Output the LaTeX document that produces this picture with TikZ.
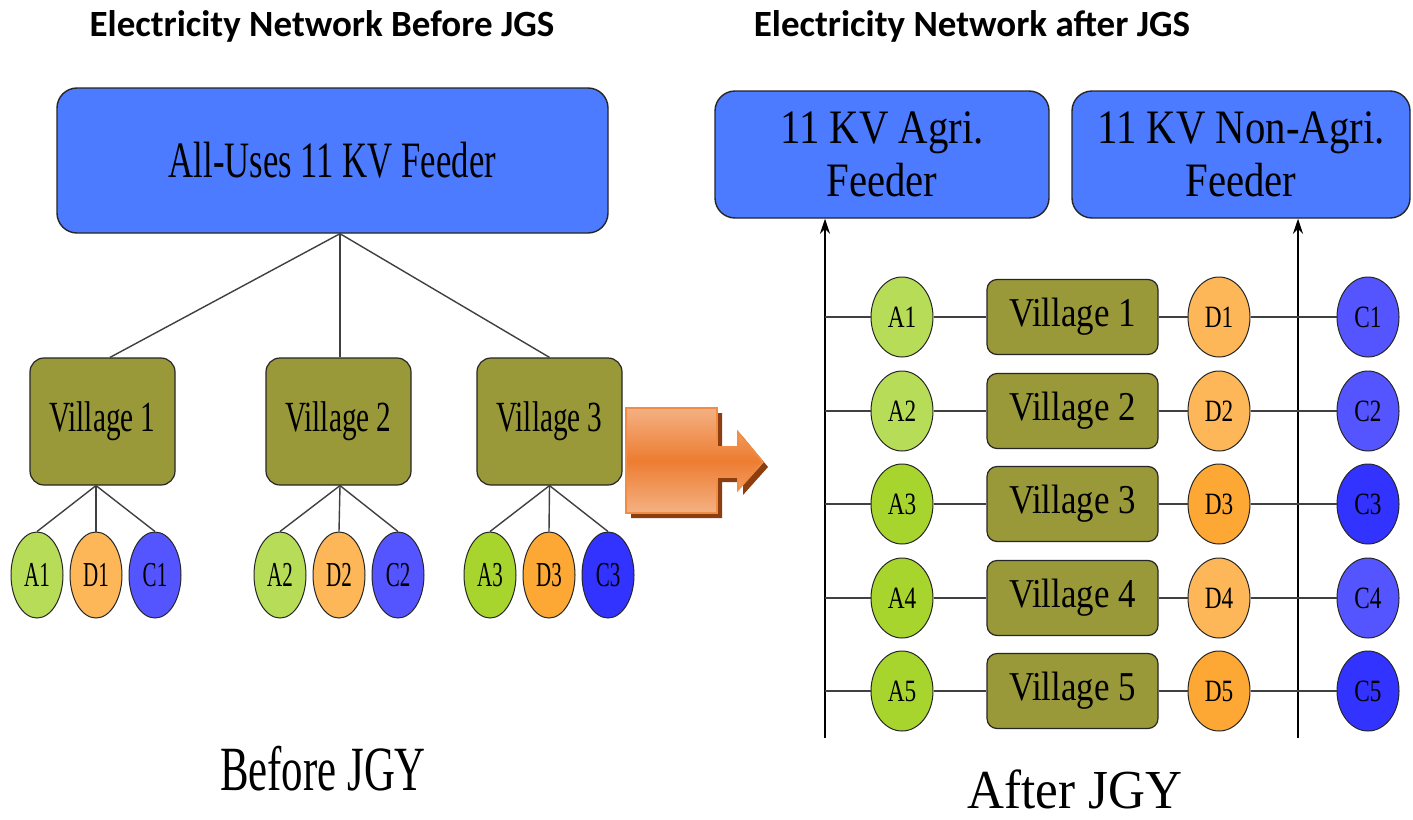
\documentclass[tikz,border=0pt]{standalone}
\usepackage{fontspec}
\setmainfont{Liberation Serif}
\newfontfamily\titlefont{Carlito}
\newfontfamily\fLa[FakeStretch=0.68]{Liberation Serif}
\newfontfamily\fLs[FakeStretch=0.6]{Liberation Serif}
\newfontfamily\fRa[FakeStretch=0.85]{Liberation Serif}
\newfontfamily\fRs[FakeStretch=0.75]{Liberation Serif}
\newfontfamily\fRb[FakeStretch=0.93]{Liberation Serif}
\usetikzlibrary{arrows.meta,calc,shapes.geometric}
\definecolor{feederblue}{RGB}{76,123,255}
\definecolor{olive}{RGB}{153,153,58}
\definecolor{agl}{RGB}{183,221,88}
\definecolor{ags}{RGB}{168,212,46}
\definecolor{dl}{RGB}{253,183,88}
\definecolor{ds}{RGB}{253,168,52}
\definecolor{cl}{RGB}{85,85,255}
\definecolor{cs}{RGB}{51,51,255}
\definecolor{olight}{RGB}{244,177,131}
\definecolor{omid}{RGB}{237,125,49}
\definecolor{oedge}{RGB}{240,140,70}
\definecolor{oshadow}{RGB}{140,62,16}
\tikzset{
  fbox/.style={draw=black!85, line width=0.7pt, fill=feederblue, rounded corners=10pt, align=center, inner sep=0pt},
  lvil/.style={draw=black!85, line width=0.6pt, fill=olive, rounded corners=7pt, minimum width=72.5pt, minimum height=63.5pt, inner sep=0pt, font=\fLa\fontsize{21.5}{24}\selectfont},
  rvil/.style={draw=black!85, line width=0.6pt, fill=olive, rounded corners=5pt, minimum width=85.5pt, minimum height=37.5pt, inner sep=0pt, font=\fRa\fontsize{20.5}{24}\selectfont},
  ell/.style={ellipse, draw=black!85, line width=0.5pt, inner sep=0pt},
  lell/.style={ell, minimum width=26pt, minimum height=43pt, font=\fLs\fontsize{17.5}{20}\selectfont},
  rell/.style={ell, minimum width=31pt, minimum height=40pt, font=\fRs\fontsize{15.5}{18}\selectfont},
  conn/.style={draw=black!75, line width=0.7pt},
  bus/.style={draw=black, line width=1.1pt, -{Stealth[length=7.5pt,width=5pt]}},
  ttl/.style={anchor=base, font=\titlefont\bfseries\fontsize{18.5}{21}\selectfont},
}
\begin{document}
\begin{tikzpicture}[x=0.5pt,y=-0.5pt]
\useasboundingbox[fill=white] (0,0) rectangle (1413,819);

% titles
\node[ttl] (t1) at (322,36) {Electricity Network Before JGS};
\node[ttl] (t2) at (972,36) {Electricity Network after JGS};

% ---------- left: before ----------
\node[fbox, minimum width=275.5pt, minimum height=72.5pt, font=\fLa\fontsize{25.5}{28}\selectfont] (feeder) at (332.5,160.5) {All-Uses 11 KV Feeder};
\node[lvil] (v1) at (102.5,421.5) {Village 1};
\node[lvil] (v2) at (338.5,421.5) {Village 2};
\node[lvil] (v3) at (549.5,421.5) {Village 3};
\draw[conn] ([xshift=3.75pt]feeder.south) -- ([xshift=3.75pt]v1.north);
\draw[conn] ([xshift=3.75pt]feeder.south) -- ([xshift=0.75pt]v2.north);
\draw[conn] ([xshift=3.75pt]feeder.south) -- (v3.north);

\node[lell, fill=agl] (la1) at (37,575) {A1};
\node[lell, fill=dl]  (ld1) at (96,575) {D1};
\node[lell, fill=cl]  (lc1) at (155,575) {C1};
\node[lell, fill=agl] (la2) at (280,575) {A2};
\node[lell, fill=dl]  (ld2) at (339,575) {D2};
\node[lell, fill=cl]  (lc2) at (398,575) {C2};
\node[lell, fill=ags] (la3) at (490,575) {A3};
\node[lell, fill=ds]  (ld3) at (549,575) {D3};
\node[lell, fill=cs]  (lc3) at (608,575) {C3};
\foreach \v/\n/\s in {v1/1/-3.25pt, v2/2/0.75pt, v3/3/0pt}{
  \draw[conn] ([xshift=\s]\v.south) -- (la\n.north);
  \draw[conn] ([xshift=\s]\v.south) -- (ld\n.north);
  \draw[conn] ([xshift=\s]\v.south) -- (lc\n.north);
}

\node[anchor=base, font=\fLa\fontsize{31.5}{34}\selectfont] (before) at (323,790) {Before JGY};

% ---------- transition arrow ----------
\fill[oshadow] (631,413) -- (722,413) -- (722,452) -- (743,452) -- (743,437) -- (768,467) -- (743,495) -- (743,482) -- (722,482) -- (722,518) -- (631,518) -- cycle;
\shade[top color=olight, bottom color=olight, middle color=omid, draw=oedge, line width=0.8pt]
  (626,408) -- (717,408) -- (717,447) -- (738,447) -- (738,432) -- (763,462) -- (738,490) -- (738,477) -- (717,477) -- (717,513) -- (626,513) -- cycle;

% ---------- right: after ----------
\node[fbox, minimum width=167pt, minimum height=63.5pt, font=\fRa\fontsize{24}{26.5}\selectfont] (agri) at (882,154.5) {11 KV Agri.\\Feeder};
\node[fbox, minimum width=169pt, minimum height=63.5pt, font=\fRa\fontsize{24}{26.5}\selectfont] (nonagri) at (1241,154.5) {11 KV Non-Agri.\\Feeder};

\coordinate (busL) at (825,738);
\coordinate (busR) at (1298,738);
\draw[bus] (busL) -- (busL |- agri.south);
\draw[bus] (busR) -- (busR |- nonagri.south);

\foreach \i/\y/\ac/\dc/\cc in {1/317/agl/dl/cl, 2/411/agl/dl/cl, 3/504/ags/ds/cs, 4/598/ags/dl/cl, 5/691/ags/ds/cs}{
  \node[rell, fill=\ac] (ra\i) at (902,\y) {A\i};
  \node[rvil] (rv\i) at (1072.5,\y) {Village \i};
  \node[rell, fill=\dc] (rd\i) at (1219,\y) {D\i};
  \node[rell, fill=\cc] (rc\i) at (1368,\y) {C\i};
  \draw[conn] (busL |- ra\i) -- (ra\i.west);
  \draw[conn] (ra\i.east) -- (rv\i.west);
  \draw[conn] (rv\i.east) -- (rd\i.west);
  \draw[conn] (rd\i.east) -- (rc\i.west);
}

\node[anchor=base, font=\fRb\fontsize{27.5}{30}\selectfont] (after) at (1075,808) {After JGY};
\end{tikzpicture}
\end{document}
